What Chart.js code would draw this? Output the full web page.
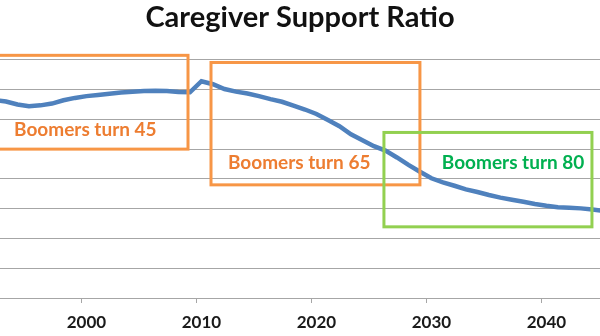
<!DOCTYPE html>
<html>
<head>
<meta charset="utf-8">
<script src="https://cdn.jsdelivr.net/npm/chart.js@4/dist/chart.umd.min.js"></script>
<style>
  html, body { margin: 0; padding: 0; background: #fff; }
  #wrap { width: 600px; height: 336px; }
</style>
</head>
<body>
<div id="wrap"><canvas id="ratioChart" width="600" height="336"></canvas></div>
<script>
// years shown on the axis and the caregiver support ratio per year
const years = [];
for (let y = 1990; y <= 2050; y++) years.push(y);
const ratio = [
  6.70, 6.68, 6.65, 6.60, 6.50, 6.44, 6.47, 6.53, 6.64, 6.72,
  6.78, 6.82, 6.86, 6.90, 6.93, 6.95, 6.96, 6.95, 6.92, 6.91,
  7.28, 7.18, 7.02, 6.93, 6.87, 6.78, 6.68, 6.59, 6.46, 6.33,
  6.18, 5.98, 5.77, 5.50, 5.30, 5.10, 4.95, 4.72, 4.47, 4.24,
  4.02, 3.88, 3.77, 3.65, 3.56, 3.46, 3.37, 3.30, 3.23, 3.16,
  3.10, 3.05, 3.03, 3.01, 2.97, 2.92, 2.90, 2.89, 2.89, 2.88,
  2.88
];
const tickYears = [2000, 2010, 2020, 2030, 2040];

// the three callout boxes, in chart units (year, ratio)
const callouts = [
  { text: "Boomers turn 45", x0: 1990.9, x1: 2008.83, y0: 8.15, y1: 5.0, tx: 1999.9, ty: 5.66, box: "#f79646", color: "#ed7d31" },
  { text: "Boomers turn 65", x0: 2010.83, x1: 2029.0, y0: 7.91, y1: 3.8, tx: 2018.5, ty: 4.55, box: "#f79646", color: "#ed7d31" },
  { text: "Boomers turn 80", x0: 2025.87, x1: 2043.96, y0: 5.56, y1: 2.39, tx: 2037.1, ty: 4.55, box: "#92d050", color: "#00b050" }
];

const calloutPlugin = {
  id: "callouts",
  afterDatasetsDraw(chart) {
    const { ctx, scales } = chart;
    ctx.save();
    callouts.forEach((c) => {
      const l = scales.x.getPixelForValue(c.x0);
      const r = scales.x.getPixelForValue(c.x1);
      const t = scales.y.getPixelForValue(c.y0);
      const b = scales.y.getPixelForValue(c.y1);
      ctx.strokeStyle = c.box;
      ctx.lineWidth = 3;
      ctx.strokeRect(l, t, r - l, b - t);
      ctx.fillStyle = c.color;
      ctx.font = "bold 19px Lato";
      ctx.textAlign = "center";
      ctx.textBaseline = "middle";
      ctx.fillText(c.text, scales.x.getPixelForValue(c.tx), scales.y.getPixelForValue(c.ty));
    });
    ctx.restore();
  }
};

// little marks under the axis sit half a year before each label
const tickMarkPlugin = {
  id: "tickMarks",
  afterDraw(chart) {
    const { ctx, scales } = chart;
    ctx.save();
    ctx.strokeStyle = "#a6a6a6";
    ctx.lineWidth = 1;
    tickYears.forEach((yr) => {
      const px = Math.round(scales.x.getPixelForValue(yr - 0.5)) + 0.5;
      ctx.beginPath();
      ctx.moveTo(px, scales.x.top);
      ctx.lineTo(px, scales.x.top + 5);
      ctx.stroke();
    });
    ctx.restore();
  }
};

const ctx = document.getElementById("ratioChart").getContext("2d");
new Chart(ctx, {
  type: "line",
  data: {
    datasets: [
      {
        label: "Caregiver Support Ratio",
        data: years.map((yr, i) => ({ x: yr, y: ratio[i] })),
        borderColor: "#4f81bd",
        borderWidth: 4.5,
        pointRadius: 0,
        tension: 0,
        fill: false
      }
    ]
  },
  options: {
    responsive: false,
    animation: false,
    layout: { padding: 0 },
    plugins: {
      legend: { display: false },
      tooltip: { enabled: false },
      title: {
        display: true,
        text: "Caregiver Support Ratio",
        color: "#111",
        font: { family: "Lato", size: 29, weight: "bold" },
        padding: { top: 0, bottom: 25 }
      }
    },
    scales: {
      x: {
        type: "linear",
        min: 1992.48,
        max: 2044.66,
        afterBuildTicks: (scale) => {
          scale.ticks = tickYears.map((v) => ({ value: v }));
        },
        afterFit: (scale) => {
          scale.height = 38;
        },
        grid: { display: false, drawTicks: true, tickLength: 5 },
        border: { display: true, color: "#a6a6a6", width: 1 },
        ticks: {
          padding: 9,
          color: "#1a1a1a",
          font: { family: "Lato", size: 17, weight: "bold" },
          callback: (v) => String(v)
        }
      },
      y: {
        min: 0,
        max: 8,
        ticks: { display: false, stepSize: 1 },
        grid: { color: "#a6a6a6", lineWidth: 1, drawTicks: false },
        border: { display: false }
      }
    }
  },
  plugins: [calloutPlugin, tickMarkPlugin]
});
</script>
</body>
</html>
